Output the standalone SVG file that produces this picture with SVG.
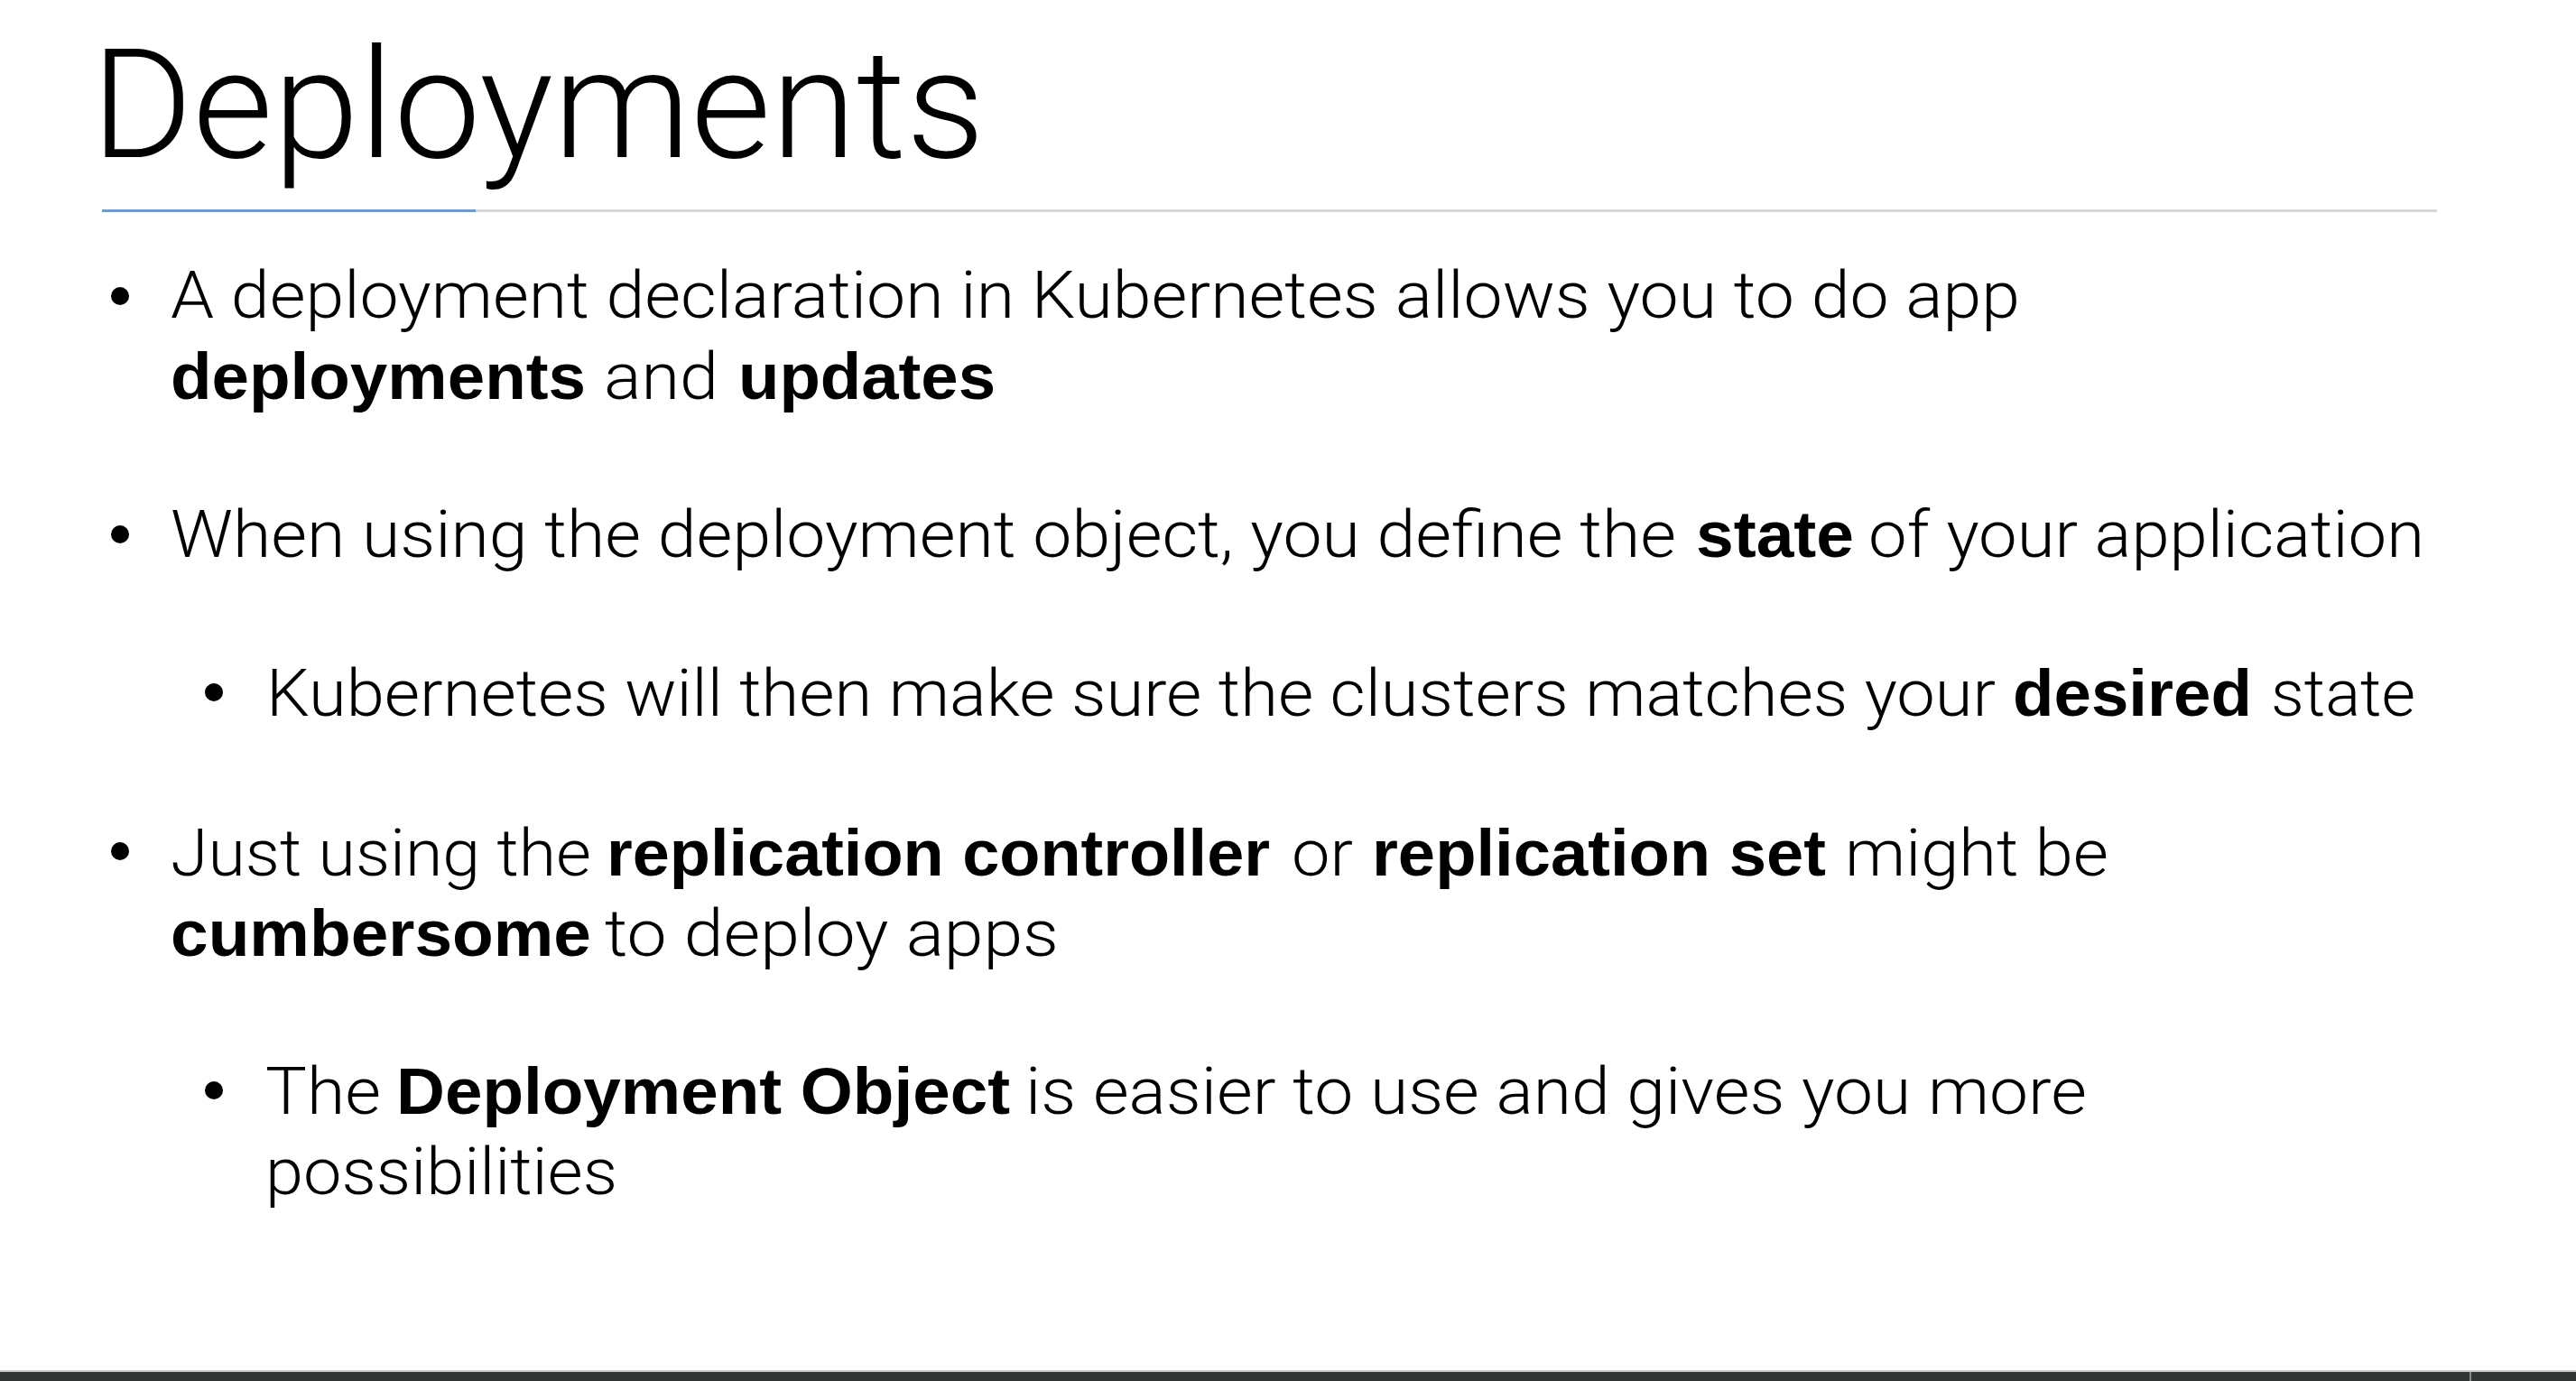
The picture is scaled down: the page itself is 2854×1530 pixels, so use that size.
<svg xmlns="http://www.w3.org/2000/svg" width="2854" height="1530" viewBox="0 0 2854 1530">
  <style>
    .t { font-family: Roboto, "Liberation Sans", Arial, sans-serif; font-weight: 300; font-size: 169px; fill: #000; }
    .r { font-family: Roboto, "Liberation Sans", Arial, sans-serif; font-weight: 300; font-size: 73px; fill: #000; }
    .b { font-family: "Liberation Sans", Arial, sans-serif; font-weight: 700; font-size: 73px; fill: #000; }
    .dot { fill: #000; }
  </style>
  <rect x="0" y="0" width="2854" height="1530" fill="#ffffff"/>

  <g id="title">
    <text class="t" x="101" y="174" textLength="990" lengthAdjust="spacingAndGlyphs">Deployments</text>
    <rect x="526" y="232" width="2174" height="3" fill="#d6d6d6"/>
    <rect x="113" y="232" width="414" height="3" fill="#6f9bd3"/>
  </g>

  <g id="bullet-1">
    <circle class="dot" cx="133" cy="328" r="10"/>
    <text class="r" x="189" y="351.5" textLength="2049" lengthAdjust="spacingAndGlyphs">A deployment declaration in Kubernetes allows you to do app</text>
    <text class="b" x="189" y="442" textLength="460" lengthAdjust="spacingAndGlyphs">deployments</text>
    <text class="r" x="669" y="442" textLength="127" lengthAdjust="spacingAndGlyphs">and</text>
    <text class="b" x="818" y="442" textLength="285" lengthAdjust="spacingAndGlyphs">updates</text>
  </g>

  <g id="bullet-2">
    <circle class="dot" cx="133" cy="592" r="10"/>
    <text class="r" x="189" y="617.3" textLength="1668" lengthAdjust="spacingAndGlyphs">When using the deployment object, you define the</text>
    <text class="b" x="1879" y="617.3" textLength="175" lengthAdjust="spacingAndGlyphs">state</text>
    <text class="r" x="2070" y="617.3" textLength="616" lengthAdjust="spacingAndGlyphs">of your application</text>
  </g>

  <g id="bullet-2-1">
    <circle class="dot" cx="237" cy="767" r="10"/>
    <text class="r" x="295" y="792.7" textLength="1916" lengthAdjust="spacingAndGlyphs">Kubernetes will then make sure the clusters matches your</text>
    <text class="b" x="2230" y="792.7" textLength="265" lengthAdjust="spacingAndGlyphs">desired</text>
    <text class="r" x="2516" y="792.7" textLength="160" lengthAdjust="spacingAndGlyphs">state</text>
  </g>

  <g id="bullet-3">
    <circle class="dot" cx="133" cy="943" r="10"/>
    <text class="r" x="189" y="970" textLength="466" lengthAdjust="spacingAndGlyphs">Just using the</text>
    <text class="b" x="672" y="970" textLength="735" lengthAdjust="spacingAndGlyphs">replication controller</text>
    <text class="r" x="1431" y="970" textLength="68" lengthAdjust="spacingAndGlyphs">or</text>
    <text class="b" x="1520" y="970" textLength="503" lengthAdjust="spacingAndGlyphs">replication set</text>
    <text class="r" x="2044" y="970" textLength="292" lengthAdjust="spacingAndGlyphs">might be</text>
    <text class="b" x="189" y="1058.5" textLength="466" lengthAdjust="spacingAndGlyphs">cumbersome</text>
    <text class="r" x="670" y="1058.5" textLength="503" lengthAdjust="spacingAndGlyphs">to deploy apps</text>
  </g>

  <g id="bullet-3-1">
    <circle class="dot" cx="237" cy="1208" r="10"/>
    <text class="r" x="294" y="1233.5" textLength="128" lengthAdjust="spacingAndGlyphs">The</text>
    <text class="b" x="439" y="1233.5" textLength="680" lengthAdjust="spacingAndGlyphs">Deployment Object</text>
    <text class="r" x="1136" y="1233.5" textLength="1176" lengthAdjust="spacingAndGlyphs">is easier to use and gives you more</text>
    <text class="r" x="294" y="1322.5" textLength="390" lengthAdjust="spacingAndGlyphs">possibilities</text>
  </g>

  <g id="bottom-bar">
    <rect x="0" y="1518" width="2854" height="2" fill="#c8c8c8"/>
    <rect x="0" y="1520" width="2854" height="10" fill="#303432"/>
    <rect x="2736" y="1520" width="2" height="10" fill="#8a8a8a"/>
  </g>
</svg>
